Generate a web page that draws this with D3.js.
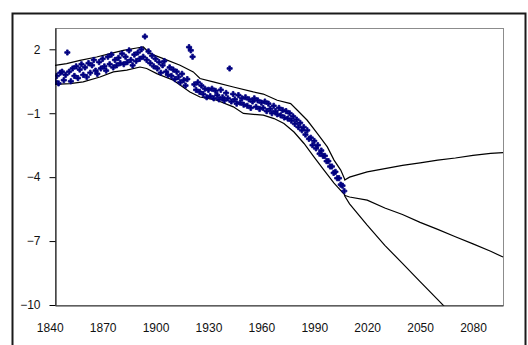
<!DOCTYPE html>
<html>
<head>
<meta charset="utf-8">
<script src="https://cdn.jsdelivr.net/npm/d3@7"></script>
<style>
  html, body { margin: 0; padding: 0; background: #fff; }
  svg { display: block; }
  text { font-family: "Liberation Sans", Arial, sans-serif; font-size: 12px; fill: #111; }
</style>
</head>
<body>
<svg id="chart" width="528" height="345"></svg>
<script>
// Annual observations (navy markers)
const obsYears = d3.range(1843, 2008);
const obsValues = [
  0.50, 0.75, 0.40, 0.90, 0.95, 0.55, 0.80,
  1.85, 0.95, 0.50, 1.10, 0.75, 1.20, 0.65, 1.05, 1.30, 0.80,
  1.15, 0.70, 1.35, 0.90, 1.25, 1.50, 1.00, 0.85, 1.40, 1.10,
  1.55, 1.20, 1.00, 1.65, 1.30, 1.75, 1.15, 1.50, 1.25, 1.60,
  1.35, 1.80, 1.30, 1.65, 1.40, 1.95, 1.50, 1.25, 1.75, 1.45,
  1.85, 1.55, 2.00, 1.65, 2.60, 1.50, 1.90, 1.35, 1.70, 1.20,
  1.55, 1.10, 1.40, 0.90, 1.25, 1.45, 0.95, 0.80, 1.15, 0.75,
  1.05, 0.60, 0.95, 0.70, 0.45, 0.85, 0.55, 0.30, 0.60, 2.10,
  1.95, 1.65, 0.35, 0.10, 0.45, 0.00, 0.30, -0.10, 0.15, -0.25,
  0.10, -0.20, 0.15, -0.30, 0.05, -0.15, -0.35, 0.10, -0.25, -0.40,
  -0.05, -0.30, 1.10, -0.45, -0.10, -0.35, -0.55, -0.15, -0.50, -0.30,
  -0.60, -0.25, -0.65, -0.35, -0.75, -0.45, -0.30, -0.70, -0.40, -0.80,
  -0.50, -0.75, -0.45, -0.90, -0.55, -0.80, -1.00, -0.65, -0.90, -1.05,
  -0.75, -1.10, -0.85, -1.20, -0.90, -1.25, -1.00, -1.35, -1.15, -1.50,
  -1.30, -1.65, -1.45, -1.80, -1.65, -2.00, -1.80, -2.20, -2.15, -2.50,
  -2.30, -2.65, -2.50, -2.90, -2.75, -3.00, -3.00, -3.25, -3.25, -3.50,
  -3.50, -3.80, -3.75, -4.05, -4.05, -4.35, -4.40, -4.65
];

// Upper and lower envelope of the observations
const upperYears  = [1843, 1849.6, 1857.2, 1866.6, 1874.2, 1881.7, 1889.3, 1893.1, 1896.9, 1904.4, 1913.9, 1921.4, 1925.2, 1932.7, 1944.1, 1955.4, 1961.1, 1969, 1976.6, 1980.4, 1986, 1991.7, 1997.4, 2001.2, 2005, 2007.5];
const upperValues = [1.25, 1.33, 1.48, 1.64, 1.80, 1.95, 2.06, 2.11, 1.80, 1.56, 1.25, 0.94, 0.63, 0.47, 0.23, 0.00, -0.10, -0.39, -0.55, -0.86, -1.33, -1.95, -2.58, -3.20, -3.67, -4.15];
const lowerYears  = [1843, 1851.5, 1859, 1868.5, 1876.1, 1883.7, 1891.2, 1895, 1900.7, 1910.1, 1919.5, 1925.2, 1934.7, 1944.1, 1949.8, 1961.1, 1967.2, 1972.8, 1978.5, 1984.2, 1989.8, 1995.5, 2001.2, 2007.4];
const lowerValues = [0.35, 0.39, 0.47, 0.70, 0.94, 1.02, 1.17, 1.10, 0.86, 0.55, 0.00, -0.24, -0.39, -0.70, -1.01, -1.09, -1.25, -1.48, -1.88, -2.42, -3.05, -3.67, -4.28, -4.84];

// Three projections to 2097
const projYears     = [2007, 2010, 2020, 2030, 2040, 2050, 2060, 2070, 2080, 2090, 2097];
const projHigh      = [-4.15, -4.00, -3.75, -3.60, -3.45, -3.33, -3.20, -3.10, -2.98, -2.88, -2.85];
const projMid       = [-4.85, -4.93, -5.08, -5.45, -5.75, -6.12, -6.45, -6.80, -7.13, -7.48, -7.75];
const projLowYears  = [2007, 2010, 2020, 2030, 2040, 2050, 2060, 2070];
const projLow       = [-4.85, -5.25, -6.25, -7.20, -8.05, -8.90, -9.75, -10.60];

// Axis ticks
const xTicks = [1840, 1870, 1900, 1930, 1960, 1990, 2020, 2050, 2080];
const yTicks = [-10, -7, -4, -1, 2];

const svg = d3.select("#chart");

// Outer chart frame
svg.append("rect")
  .attr("x", 12.5).attr("y", 13.5)
  .attr("width", 513).attr("height", 340)
  .attr("fill", "#fff").attr("stroke", "#1a1a1a").attr("stroke-width", 2);

const plot = { left: 55, right: 503, top: 28, bottom: 305 };

const x = d3.scaleLinear().domain([1843, 2097]).range([plot.left, plot.right]);
const y = d3.scaleLinear().domain([-10, 3]).range([plot.bottom, plot.top]);

// Plot area border
svg.append("rect")
  .attr("x", plot.left + 0.5).attr("y", plot.top + 0.5)
  .attr("width", plot.right - plot.left).attr("height", plot.bottom - plot.top)
  .attr("fill", "#fff").attr("stroke", "#8c8c8c").attr("stroke-width", 1);

svg.append("defs").append("clipPath").attr("id", "plotClip")
  .append("rect")
  .attr("x", plot.left).attr("y", plot.top)
  .attr("width", plot.right - plot.left + 1).attr("height", plot.bottom - plot.top + 1);

const g = svg.append("g").attr("clip-path", "url(#plotClip)");

const line = d3.line().x(d => x(d[0])).y(d => y(d[1]));

const series = [
  d3.zip(upperYears, upperValues),
  d3.zip(lowerYears, lowerValues),
  d3.zip(projYears, projHigh),
  d3.zip(projYears, projMid),
  d3.zip(projLowYears, projLow)
];

g.selectAll("path.series")
  .data(series)
  .join("path")
  .attr("class", "series")
  .attr("d", line)
  .attr("fill", "none")
  .attr("stroke", "#000")
  .attr("stroke-width", 1.2);

// Small cross-shaped markers
const marker = d3.symbol().type(d3.symbolCross).size(15);
g.selectAll("path.obs")
  .data(d3.zip(obsYears, obsValues))
  .join("path")
  .attr("class", "obs")
  .attr("transform", d => `translate(${x(d[0])},${y(d[1])})`)
  .attr("d", marker)
  .attr("fill", "#000080")
  .attr("stroke", "#000080")
  .attr("stroke-width", 0.8);

// Y axis
const yAxis = svg.append("g")
  .attr("transform", `translate(${plot.left + 0.5},0)`)
  .call(d3.axisLeft(y).tickValues(yTicks).tickFormat(d3.format("d"))
    .tickSize(6).tickSizeOuter(0).tickPadding(9));
yAxis.select(".domain").attr("stroke", "#000");
yAxis.selectAll(".tick line").attr("stroke", "#000");
yAxis.selectAll("text").attr("font-size", 12).attr("font-family", "Liberation Sans, Arial, sans-serif").attr("fill", "#111");

// X axis
const xAxis = svg.append("g")
  .attr("transform", `translate(0,${plot.bottom + 0.5})`)
  .call(d3.axisBottom(x).tickValues(xTicks).tickFormat(d3.format("d"))
    .tickSize(0).tickSizeOuter(0).tickPadding(18));
xAxis.select(".domain").attr("stroke", "#333");
xAxis.selectAll("text").attr("font-size", 12).attr("font-family", "Liberation Sans, Arial, sans-serif").attr("fill", "#111");
</script>
</body>
</html>
